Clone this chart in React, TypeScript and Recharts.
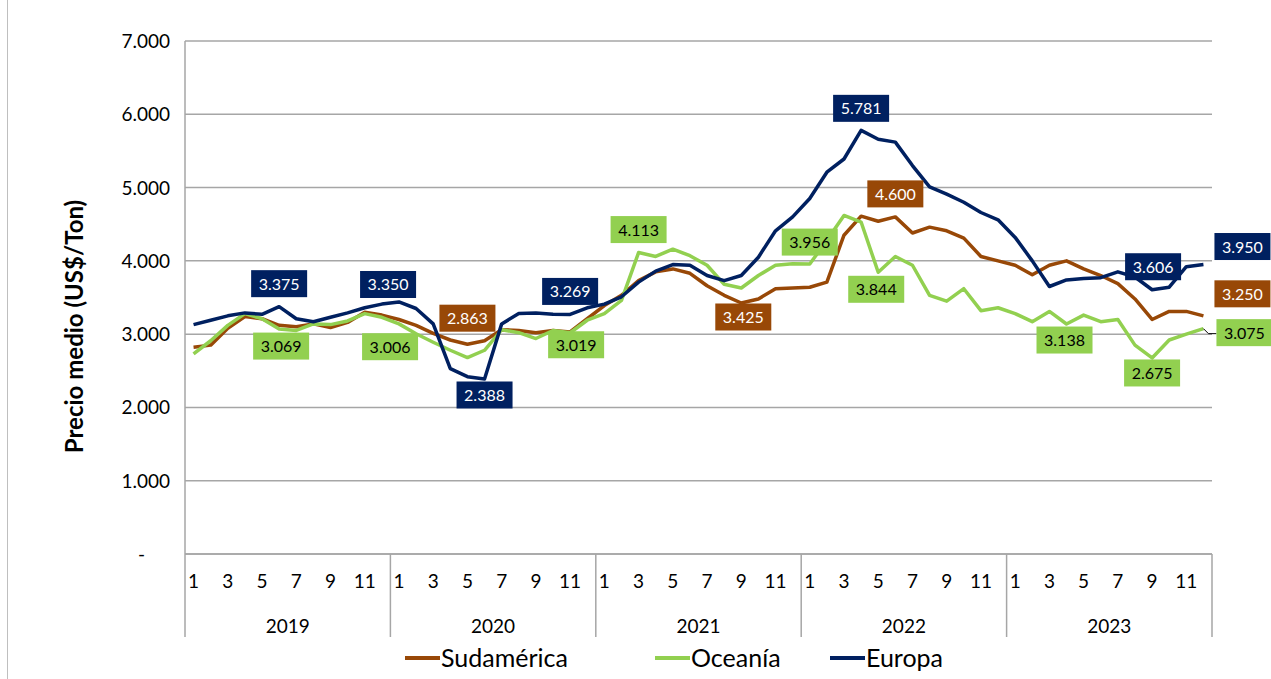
import React from "react";
import {
  CartesianGrid,
  LabelList,
  Line,
  LineChart,
  XAxis,
  YAxis,
} from "recharts";

// months 1..12 for 2019-2023
const YEARS = [2019, 2020, 2021, 2022, 2023];
const MONTHS = [1, 2, 3, 4, 5, 6, 7, 8, 9, 10, 11, 12];

// US$/Ton
const sudamerica = [
  2820, 2850, 3080, 3240, 3210, 3120, 3100, 3140, 3090, 3160, 3300, 3260,
  3200, 3120, 3010, 2920, 2863, 2910, 3060, 3050, 3020, 3050, 3030, 3210,
  3390, 3530, 3730, 3850, 3890, 3830, 3660, 3530, 3425, 3480, 3620, 3630,
  3640, 3710, 4350, 4610, 4540, 4600, 4380, 4460, 4410, 4310, 4060, 4000,
  3940, 3810, 3940, 4000, 3890, 3800, 3690, 3480, 3200, 3310, 3310, 3250,
];
const oceania = [
  2730, 2910, 3120, 3280, 3210, 3069, 3050, 3140, 3130, 3180, 3280, 3230,
  3140, 3006, 2890, 2780, 2680, 2780, 3060, 3020, 2940, 3050, 3019, 3190,
  3280, 3460, 4113, 4060, 4160, 4070, 3940, 3680, 3630, 3800, 3940, 3960,
  3956, 4280, 4620, 4530, 3844, 4060, 3940, 3530, 3450, 3620, 3320, 3360,
  3280, 3170, 3310, 3138, 3260, 3170, 3200, 2850, 2675, 2920, 3000, 3075,
];
const europa = [
  3130, 3190, 3250, 3290, 3270, 3375, 3210, 3170, 3230, 3290, 3360, 3410,
  3440, 3350, 3140, 2530, 2420, 2388, 3140, 3280, 3290, 3270, 3269, 3360,
  3410, 3510, 3710, 3860, 3950, 3940, 3800, 3730, 3800, 4050, 4410, 4600,
  4850, 5210, 5390, 5781, 5660, 5620, 5300, 5010, 4910, 4800, 4660, 4560,
  4320, 4000, 3650, 3740, 3760, 3770, 3850, 3780, 3606, 3640, 3920, 3950,
];

const yTicks = [0, 1000, 2000, 3000, 4000, 5000, 6000, 7000];

// which points get a value box, and where the box sits relative to the point
const sudLabels = [
  { i: 16, dx: 0, dy: -26 },
  { i: 32, dx: 2, dy: 14 },
  { i: 41, dx: 0, dy: -23 },
  { i: 59, dx: 39, dy: -22 },
];
const oceLabels = [
  { i: 5, dx: 2, dy: 17 },
  { i: 13, dx: -26, dy: 13 },
  { i: 22, dx: 6, dy: 12 },
  { i: 26, dx: 0, dy: -23 },
  { i: 36, dx: 0, dy: -22 },
  { i: 40, dx: -2, dy: 17 },
  { i: 51, dx: -2, dy: 16 },
  { i: 56, dx: 0, dy: 15 },
  { i: 59, dx: 41, dy: 4, leader: true },
];
const eurLabels = [
  { i: 5, dx: 0, dy: -23 },
  { i: 13, dx: -28, dy: -24 },
  { i: 17, dx: 0, dy: 16 },
  { i: 22, dx: 0, dy: -23 },
  { i: 39, dx: 0, dy: -22 },
  { i: 56, dx: 1, dy: -23 },
  { i: 59, dx: 39, dy: -18 },
];

const COLORS = { sud: "#984807", oce: "#92d050", eur: "#002060" };
const FONT = "Lato, 'Open Sans', sans-serif";
const GRID = "#a6a6a6";

const W = 1271;
const H = 679;
const PLOT_LEFT = 185;
const PLOT_RIGHT = 1212;
const PLOT_TOP = 41;
const PLOT_BOTTOM = 554;
const PLOT_W = PLOT_RIGHT - PLOT_LEFT;

const data = YEARS.flatMap((y, yi) =>
  MONTHS.map((m, mi) => {
    const i = yi * 12 + mi;
    return {
      key: `${y}-${m}`,
      year: y,
      month: m,
      sud: sudamerica[i],
      oce: oceania[i],
      eur: europa[i],
    };
  })
);

const fmt = (v: number) =>
  Math.round(v)
    .toString()
    .replace(/\B(?=(\d{3})+(?!\d))/g, ".");

function makeLabel(
  cfg: { i: number; dx: number; dy: number; leader?: boolean }[],
  fill: string,
  textColor: string
) {
  return (props: any) => {
    const { x, y, value, index } = props;
    const c = cfg.find((l) => l.i === index);
    if (!c) return null;
    const bw = 56;
    const bh = 27;
    const cx = x + c.dx;
    const cy = y + c.dy;
    return (
      <g>
        {c.leader && (
          <polyline
            points={`${x},${y} ${x + 5},${cy + 1} ${cx - bw / 2},${cy + 1}`}
            fill="none"
            stroke="#000"
            strokeWidth={1}
          />
        )}
        <rect x={cx - bw / 2} y={cy - bh / 2} width={bw} height={bh} fill={fill} />
        <text
          x={cx}
          y={cy + 6}
          textAnchor="middle"
          fill={textColor}
          fontSize={16}
          fontFamily={FONT}
        >
          {fmt(value)}
        </text>
      </g>
    );
  };
}

const XTick = (props: any) => {
  const { x, y, payload } = props;
  const i = payload.index;
  const d = data[i];
  const band = PLOT_W / data.length;
  return (
    <g>
      {d.month % 2 === 1 && (
        <text x={x} y={y + 34} textAnchor="middle" fontSize={19} fontFamily={FONT} fill="#000">
          {d.month}
        </text>
      )}
      {d.month === 1 && (
        <line x1={x - band / 2} x2={x - band / 2} y1={y} y2={y + 83} stroke={GRID} strokeWidth={1.5} />
      )}
      {i === data.length - 1 && (
        <line x1={x + band / 2} x2={x + band / 2} y1={y} y2={y + 83} stroke={GRID} strokeWidth={1.5} />
      )}
      {d.month === 6 && (
        <text x={x + band / 2} y={y + 79} textAnchor="middle" fontSize={19} fontFamily={FONT} fill="#000">
          {d.year}
        </text>
      )}
    </g>
  );
};

const YTick = (props: any) => {
  const { x, y, payload } = props;
  const v = payload.value;
  return (
    <text
      x={v === 0 ? x - 25 : x}
      y={y + 7}
      textAnchor="end"
      fontSize={19}
      fontFamily={FONT}
      fill="#000"
    >
      {v === 0 ? "-" : fmt(v)}
    </text>
  );
};

const legendItems = [
  { name: "Sudamérica", color: COLORS.sud, width: 250 },
  { name: "Oceanía", color: COLORS.oce, width: 175 },
  { name: "Europa", color: COLORS.eur, width: 150 },
];

export default function App() {
  return (
    <div style={{ position: "absolute", left: 0, top: 0, width: W, height: H, background: "#fff", overflow: "hidden" }}>
      <div style={{ position: "absolute", left: 7, top: 0, width: 1, height: H, background: "#bfbfbf" }} />
      <LineChart
        width={W}
        height={H}
        data={data}
        margin={{ top: PLOT_TOP, right: W - PLOT_RIGHT, bottom: 0, left: 0 }}
        style={{ overflow: "visible" }}
      >
        <CartesianGrid vertical={false} stroke={GRID} strokeWidth={1.5} />
        <XAxis
          dataKey="key"
          scale="band"
          interval={0}
          height={H - PLOT_BOTTOM}
          tickLine={false}
          tickSize={0}
          tickMargin={0}
          axisLine={{ stroke: GRID, strokeWidth: 1.5 }}
          tick={<XTick />}
        />
        <YAxis
          width={PLOT_LEFT}
          domain={[0, 7000]}
          ticks={yTicks}
          interval={0}
          tickLine={false}
          tickSize={0}
          tickMargin={15}
          axisLine={{ stroke: GRID, strokeWidth: 1.5 }}
          tick={<YTick />}
          label={{
            content: (p: any) => {
              const vb = p.viewBox;
              const cy = vb.y + vb.height / 2 + 29;
              return (
                <text
                  x={83}
                  y={cy}
                  transform={`rotate(-90 83 ${cy})`}
                  textAnchor="middle"
                  fontSize={24}
                  fontWeight="bold"
                  fontFamily={FONT}
                  fill="#000"
                >
                  Precio medio (US$/Ton)
                </text>
              );
            },
          }}
        />
        <Line
          dataKey="sud"
          name="Sudamérica"
          stroke={COLORS.sud}
          strokeWidth={3.5}
          dot={false}
          strokeLinejoin="round"
          isAnimationActive={false}
        >
          <LabelList dataKey="sud" content={makeLabel(sudLabels, COLORS.sud, "#fff")} />
        </Line>
        <Line
          dataKey="oce"
          name="Oceanía"
          stroke={COLORS.oce}
          strokeWidth={3.5}
          dot={false}
          strokeLinejoin="round"
          isAnimationActive={false}
        >
          <LabelList dataKey="oce" content={makeLabel(oceLabels, COLORS.oce, "#000")} />
        </Line>
        <Line
          dataKey="eur"
          name="Europa"
          stroke={COLORS.eur}
          strokeWidth={3.5}
          dot={false}
          strokeLinejoin="round"
          isAnimationActive={false}
        >
          <LabelList dataKey="eur" content={makeLabel(eurLabels, COLORS.eur, "#fff")} />
        </Line>
      </LineChart>
      <div
        style={{
          position: "absolute",
          left: 405,
          top: 643,
          display: "flex",
          fontFamily: FONT,
          fontSize: 25,
          lineHeight: "29px",
          color: "#000",
        }}
      >
        {legendItems.map((it) => (
          <div key={it.name} style={{ display: "flex", alignItems: "center", width: it.width }}>
            <span style={{ display: "inline-block", width: 35, height: 4, background: it.color, marginRight: 1 }} />
            <span>{it.name}</span>
          </div>
        ))}
      </div>
    </div>
  );
}
